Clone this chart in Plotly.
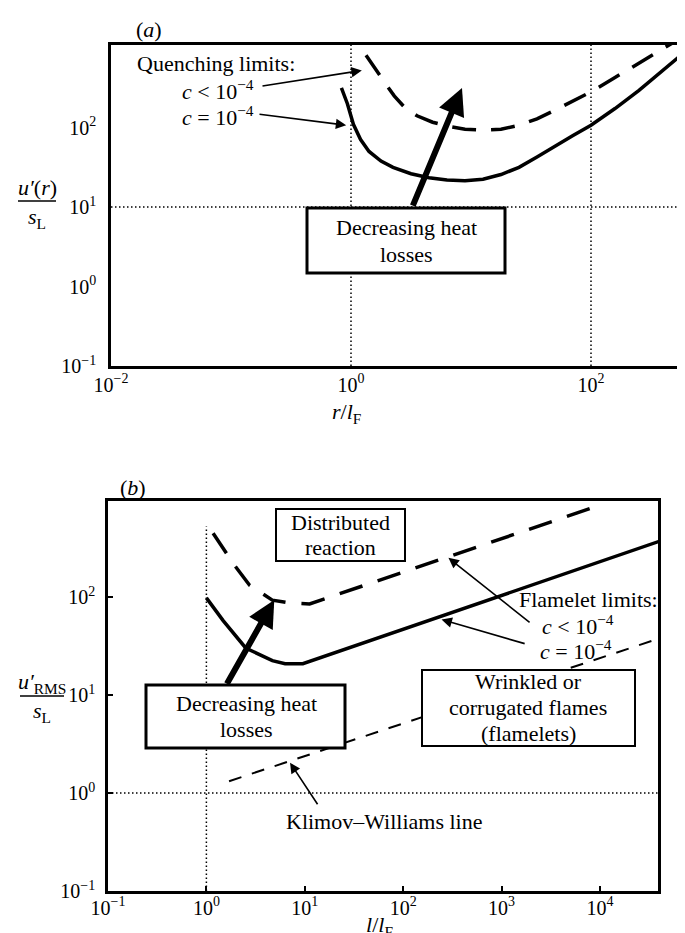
import plotly.graph_objects as go

W, H = 685, 933
FONT = "Liberation Serif"

# ---------------- data ----------------
# Panel (a): quenching limits
a_dash_x = [1.334, 1.585, 1.905, 2.291, 2.818, 3.548, 4.786, 6.310, 8.913, 12.59,
            17.78, 25.12, 35.48, 50.12, 70.79, 100, 158.5, 251.2, 398.1, 562.3]
a_dash_y = [813, 550, 372, 251, 178, 141, 117, 105, 95.5, 93.3,
            95.5, 107, 129, 166, 214, 282, 427, 646, 977, 1349]
a_solid_x = [0.832, 0.933, 1.047, 1.202, 1.413, 1.778, 2.239, 3.162, 4.467, 6.310,
             8.913, 12.59, 17.78, 25.12, 35.48, 50.12, 70.79, 100, 158.5, 251.2,
             398.1, 707.9, 794.3]
a_solid_y = [316, 200, 110, 70.8, 50.1, 38.0, 31.6, 26.3, 23.4, 21.9,
             21.4, 22.4, 25.7, 31.6, 42.7, 58.9, 79.4, 107, 174, 295,
             525, 1096, 1259]
a_dot_vx = [1, 100]
a_dot_hy = [10]

# Panel (b): flamelet limits
b_dash_x = [1.17, 1.91, 2.75, 4.68, 7.08, 11.2, 8900]
b_dash_y = [447, 214, 132, 93, 87, 85, 832]
b_solid_x = [1.0, 1.48, 2.51, 4.68, 6.31, 9.55, 40000]
b_solid_y = [98, 57.5, 30.2, 22.4, 20.9, 20.9, 370]
b_kw_x = [1.70, 35500]
b_kw_y = [1.32, 36.3]
b_dot_vx = [1]
b_dot_vtop = 525
b_dot_hy = [1]

# tick labels
a_xticks = [0.01, 1, 100]
a_xtext = ["10<sup>−2</sup>", "10<sup>0</sup>", "10<sup>2</sup>"]
a_yticks = [0.1, 1, 10, 100]
a_ytext = ["10<sup>−1</sup>", "10<sup>0</sup>", "10<sup>1</sup>", "10<sup>2</sup>"]
b_xticks = [0.1, 1, 10, 100, 1000, 10000]
b_xtext = ["10<sup>−1</sup>", "10<sup>0</sup>", "10<sup>1</sup>", "10<sup>2</sup>",
           "10<sup>3</sup>", "10<sup>4</sup>"]
b_yticks = [0.1, 1, 10, 100]
b_ytext = ["10<sup>−1</sup>", "10<sup>0</sup>", "10<sup>1</sup>", "10<sup>2</sup>"]


def px(x):
    return x / W


def py(y):
    return 1 - y / H


DOT = dict(color="black", width=1.5, dash="1.5px,2.5px")
fig = go.Figure()

# dotted reference lines
for vx in a_dot_vx:
    fig.add_trace(go.Scatter(x=[vx, vx], y=[0.1, 1100], mode="lines", line=DOT,
                             xaxis="x", yaxis="y", hoverinfo="skip"))
for hy in a_dot_hy:
    fig.add_trace(go.Scatter(x=[0.01, 1000], y=[hy, hy], mode="lines", line=DOT,
                             xaxis="x", yaxis="y", hoverinfo="skip"))
for vx in b_dot_vx:
    fig.add_trace(go.Scatter(x=[vx, vx], y=[0.1, b_dot_vtop], mode="lines", line=DOT,
                             xaxis="x2", yaxis="y2", hoverinfo="skip"))
for hy in b_dot_hy:
    fig.add_trace(go.Scatter(x=[0.1, 50000], y=[hy, hy], mode="lines", line=DOT,
                             xaxis="x2", yaxis="y2", hoverinfo="skip"))

# curves panel a
fig.add_trace(go.Scatter(x=a_dash_x, y=a_dash_y, mode="lines",
                         line=dict(color="black", width=3.5, dash="24px,15px"),
                         xaxis="x", yaxis="y"))
fig.add_trace(go.Scatter(x=a_solid_x, y=a_solid_y, mode="lines",
                         line=dict(color="black", width=3.5),
                         xaxis="x", yaxis="y"))
# curves panel b
fig.add_trace(go.Scatter(x=b_dash_x, y=b_dash_y, mode="lines",
                         line=dict(color="black", width=3.5, dash="24px,16px"),
                         xaxis="x2", yaxis="y2"))
fig.add_trace(go.Scatter(x=b_solid_x, y=b_solid_y, mode="lines",
                         line=dict(color="black", width=3.5),
                         xaxis="x2", yaxis="y2"))
fig.add_trace(go.Scatter(x=b_kw_x, y=b_kw_y, mode="lines",
                         line=dict(color="black", width=2, dash="13px,11px"),
                         xaxis="x2", yaxis="y2"))

axis_common = dict(type="log", showgrid=False, zeroline=False, showline=True,
                   linecolor="black", linewidth=2.5, automargin=False,
                   tickfont=dict(family=FONT, size=20, color="black"))

fig.update_layout(
    width=W, height=H, margin=dict(l=0, r=0, t=0, b=0, pad=0),
    paper_bgcolor="white", plot_bgcolor="white", showlegend=False,
    xaxis=dict(axis_common, domain=[px(103), 1.0], range=[-2, 2.85], mirror=True,
               tickvals=a_xticks, ticktext=a_xtext, ticks="", ticklabelstandoff=-1,
               anchor="y"),
    yaxis=dict(axis_common, domain=[py(358), py(37)], range=[-1, 3.04], mirror=False,
               tickvals=a_yticks, ticktext=a_ytext, ticks="", ticklabelstandoff=8,
               anchor="x"),
    xaxis2=dict(axis_common, domain=[px(100), px(650)], range=[-1, 4.59], mirror=True,
                tickvals=b_xticks, ticktext=b_xtext, ticks="inside", ticklen=5,
                tickwidth=2, tickcolor="black", ticklabelstandoff=-3, anchor="y2"),
    yaxis2=dict(axis_common, domain=[py(883), py(493)], range=[-1, 2.98], mirror=True,
                tickvals=b_yticks, ticktext=b_ytext, ticks="inside", ticklen=5,
                tickwidth=2, tickcolor="black", ticklabelstandoff=6, anchor="x2"),
)

# boxes (white fill, covers lines)
boxes = [
    (299, 200, 497, 265, 3),
    (268, 501, 397, 553, 2),
    (138, 677, 337, 740, 3),
    (414, 662, 627, 738, 2),
]
shapes = []
for x0, y0, x1, y1, lw in boxes:
    shapes.append(dict(type="rect", xref="paper", yref="paper",
                       x0=px(x0), x1=px(x1), y0=py(y1), y1=py(y0),
                       fillcolor="white", line=dict(color="black", width=lw),
                       layer="above"))
# fraction bars of the y titles
shapes.append(dict(type="line", xref="paper", yref="paper", x0=px(10), x1=px(48),
                   y0=py(193), y1=py(193), line=dict(color="black", width=1.5)))
shapes.append(dict(type="line", xref="paper", yref="paper", x0=px(12), x1=px(56),
                   y0=py(688), y1=py(688), line=dict(color="black", width=1.5)))
fig.update_layout(shapes=shapes)

FS = 22
texts = [
    ("(<i>a</i>)", 141, 22),
    ("Quenching limits:", 208, 56),
    ("<i>c</i> < 10<sup>−4</sup>", 210, 82),
    ("<i>c</i> = 10<sup>−4</sup>", 210, 108),
    ("Decreasing heat", 398, 220),
    ("losses", 398, 246),
    ("<i>r</i>/<i>l</i><sub>F</sub>", 338, 405),
    ("<i>u′</i>(<i>r</i>)", 29, 180),
    ("<i>s</i><sub>L</sub>", 29, 210),
    ("(<i>b</i>)", 125, 480),
    ("Distributed", 332, 514),
    ("reaction", 332, 539),
    ("Decreasing heat", 238, 695),
    ("losses", 238, 721),
    ("Wrinkled or", 520, 673),
    ("corrugated flames", 520, 699),
    ("(flamelets)", 520, 725),
    ("Flamelet limits:", 580, 591),
    ("<i>c</i> < 10<sup>−4</sup>", 570, 617),
    ("<i>c</i> = 10<sup>−4</sup>", 568, 642),
    ("Klimov–Williams line", 376, 813),
    ("<i>u′</i><sub>RMS</sub>", 34, 675),
    ("<i>s</i><sub>L</sub>", 34, 704),
    ("<i>l</i>/<i>l</i><sub>F</sub>", 371, 918),
]
annotations = []
for t, x, y in texts:
    annotations.append(dict(text=t, x=px(x), y=py(y), xref="paper", yref="paper",
                            showarrow=False, xanchor="center", yanchor="middle",
                            font=dict(family=FONT, size=FS, color="black")))

# arrows: (tip_logx, tip_logy, tail_logx, tail_logy, xref, yref, width, size)
arrows = [
    (0.925, 2.50, 0.51, 1.0, "x", "y", 6, 0.9),
    (0.09, 2.72, -0.75, 2.52, "x", "y", 1.6, 1.3),
    (-0.04, 2.03, -0.775, 2.17, "x", "y", 1.6, 1.3),
    (0.69, 1.97, 0.20, 1.10, "x2", "y2", 6, 0.9),
    (2.46, 2.40, 3.30, 1.73, "x2", "y2", 1.6, 1.3),
    (2.39, 1.77, 3.25, 1.52, "x2", "y2", 1.6, 1.3),
    (0.85, 0.31, 1.14, -0.13, "x2", "y2", 1.6, 1.3),
]
for tx, ty, sx, sy, xr, yr, w, s in arrows:
    annotations.append(dict(x=tx, y=ty, ax=sx, ay=sy, xref=xr, yref=yr,
                            axref=xr, ayref=yr, text="", showarrow=True,
                            arrowhead=2, arrowsize=s, arrowwidth=w,
                            arrowcolor="black", standoff=0, startstandoff=0))
fig.update_layout(annotations=annotations)

fig.write_html("out.html")
